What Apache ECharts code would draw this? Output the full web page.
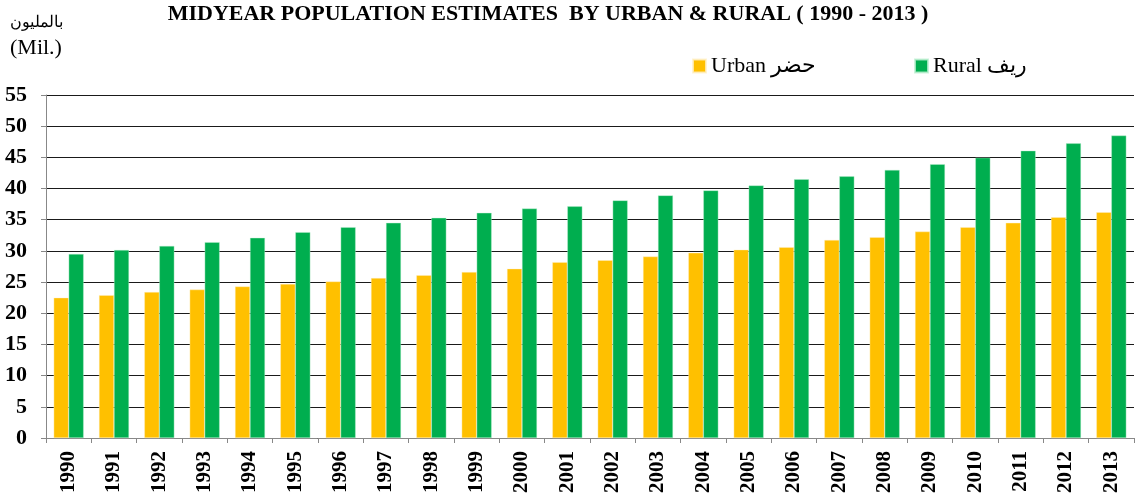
<!DOCTYPE html>
<html>
<head>
<meta charset="utf-8">
<script src="https://cdn.jsdelivr.net/npm/echarts@6/dist/echarts.min.js"></script>
<style>html,body{margin:0;padding:0;background:#fff}#c{width:1136px;height:500px}</style>
</head>
<body>
<div id="c"></div>
<script>
const years = ['1990','1991','1992','1993','1994','1995','1996','1997','1998','1999','2000','2001','2002','2003','2004','2005','2006','2007','2008','2009','2010','2011','2012','2013'];
const urban = [22.5,22.9,23.4,23.8,24.3,24.7,25.1,25.65,26.1,26.6,27.15,28.2,28.5,29.1,29.7,30.2,30.6,31.75,32.2,33.1,33.8,34.5,35.4,36.2];
const rural = [29.5,30.15,30.8,31.4,32.1,33.0,33.8,34.5,35.3,36.1,36.8,37.15,38.1,38.9,39.7,40.5,41.5,41.96,42.98,43.9,44.95,46.07,47.25,48.5];
const yTicks = [0,5,10,15,20,25,30,35,40,45,50,55];
const titleText = 'MIDYEAR POPULATION ESTIMATES  BY URBAN & RURAL ( 1990 - 2013 )';
const unitAr = 'بالمليون';
const unitEn = '(Mil.)';
const urbanName = 'Urban حضر';
const ruralName = 'Rural ريف';

const serif = '"Liberation Serif","Times New Roman",serif';
const chart = echarts.init(document.getElementById('c'));
chart.setOption({
  animation: false,
  backgroundColor: '#fff',
  title: [
    {text: titleText, left: 548, top: 3, padding: 0, textAlign: 'center',
     textStyle: {fontFamily: serif, fontWeight: 'bold', fontSize: 22, color: '#000'}},
    {text: unitAr, left: 10, top: 15, padding: 0,
     textStyle: {fontFamily: serif, fontWeight: 'normal', fontSize: 16, color: '#000'}},
    {text: unitEn, left: 10, top: 37, padding: 0,
     textStyle: {fontFamily: serif, fontWeight: 'normal', fontSize: 22, color: '#000'}}
  ],
  legend: [
    {data: [urbanName], left: 687, top: 50, itemWidth: 13, itemHeight: 13, itemGap: 5,
     icon: 'rect', textStyle: {fontFamily: serif, fontSize: 22, color: '#000'}},
    {data: [ruralName], left: 909, top: 50, itemWidth: 13, itemHeight: 13, itemGap: 5,
     icon: 'rect', textStyle: {fontFamily: serif, fontSize: 22, color: '#000'}}
  ],
  grid: {left: 46, right: 2, top: 95, bottom: 62, containLabel: false},
  xAxis: {
    type: 'category', data: years, boundaryGap: true,
    axisLine: {show: true, lineStyle: {color: '#888', width: 1}},
    axisTick: {show: true, alignWithLabel: false, length: 5, lineStyle: {color: '#888'}},
    axisLabel: {rotate: 90, interval: 0, margin: 13, fontFamily: serif, fontWeight: 'bold', fontSize: 21, color: '#000'},
    splitLine: {show: false}
  },
  yAxis: {
    type: 'value', min: yTicks[0], max: yTicks[yTicks.length-1], interval: 5,
    axisLine: {show: true, lineStyle: {color: '#888', width: 1}},
    axisTick: {show: true, length: 5, lineStyle: {color: '#888'}},
    axisLabel: {margin: 19, fontFamily: serif, fontWeight: 'bold', fontSize: 22, color: '#000'},
    splitLine: {show: true, lineStyle: {color: '#1a1a1a', width: 1}}
  },
  series: [
    {name: urbanName, type: 'bar', data: urban, barWidth: 15, barGap: '0%',
     itemStyle: {color: '#FFC000', borderColor: 'rgba(255,240,200,0.8)', borderWidth: 0.5}},
    {name: ruralName, type: 'bar', data: rural, barWidth: 15, barGap: '0%',
     itemStyle: {color: '#00AE4F', borderColor: 'rgba(190,240,210,0.8)', borderWidth: 0.5}}
  ]
});
</script>
</body>
</html>
